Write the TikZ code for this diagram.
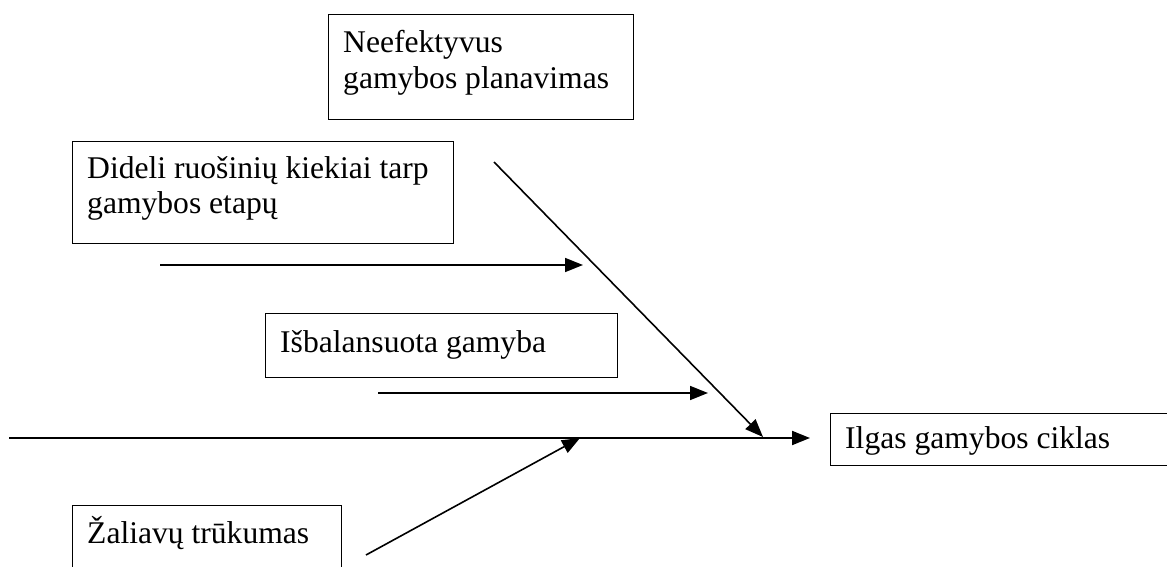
\documentclass[tikz,border=0pt]{standalone}
\usepackage{fontspec}
\setmainfont{Liberation Serif}
\usetikzlibrary{arrows.meta}
\begin{document}
\begin{tikzpicture}[x=1pt,y=-1pt,
  box/.style={draw,line width=1.3pt,inner sep=0pt,anchor=north west},
  txt/.style={anchor=base west,inner sep=0pt,font=\fontsize{31.6}{36}\selectfont},
  arr/.style={line width=1.6pt,-{Triangle[length=18pt,width=14pt]}}]
\useasboundingbox (0,0) rectangle (1167,567);

% cause boxes
\node[box,minimum width=305pt,minimum height=105pt] (bplan) at (328,14) {};
\node[txt] (tplanA) at (343,53) {Neefektyvus};
\node[txt] (tplanB) at (343,89) {gamybos planavimas};

\node[box,minimum width=381pt,minimum height=102pt] (bstock) at (72,141) {};
\node[txt] (tstockA) at (87,178) {Dideli ruošinių kiekiai tarp};
\node[txt] (tstockB) at (87,213) {gamybos etapų};

\node[box,minimum width=352pt,minimum height=64pt] (bbal) at (265,313) {};
\node[txt] (tbal) at (280,352) {Išbalansuota gamyba};

\node[box,minimum width=269pt,minimum height=80pt] (bmat) at (72,505) {};
\node[txt] (tmat) at (87,543) {Žaliavų trūkumas};

% effect box
\node[box,minimum width=345pt,minimum height=52pt] (beff) at (830,413) {};
\node[txt] (teff) at (845,448) {Ilgas gamybos ciklas};

% spine and branches
\coordinate (s0) at (9,438);
\coordinate (s1) at (810,438);
\draw[arr,line width=2pt] (s0) -- (s1);

\coordinate (a0) at (160,265);
\coordinate (a1) at (583,265);
\draw[arr] (a0) -- (a1);

\coordinate (b0) at (378,393);
\coordinate (b1) at (708,393);
\draw[arr] (b0) -- (b1);

\coordinate (c0) at (494,162);
\coordinate (c1) at (763,437);
\draw[arr] (c0) -- (c1);

\coordinate (d0) at (366,555);
\coordinate (d1) at (580,438);
\draw[arr] (d0) -- (d1);
\end{tikzpicture}
\end{document}
